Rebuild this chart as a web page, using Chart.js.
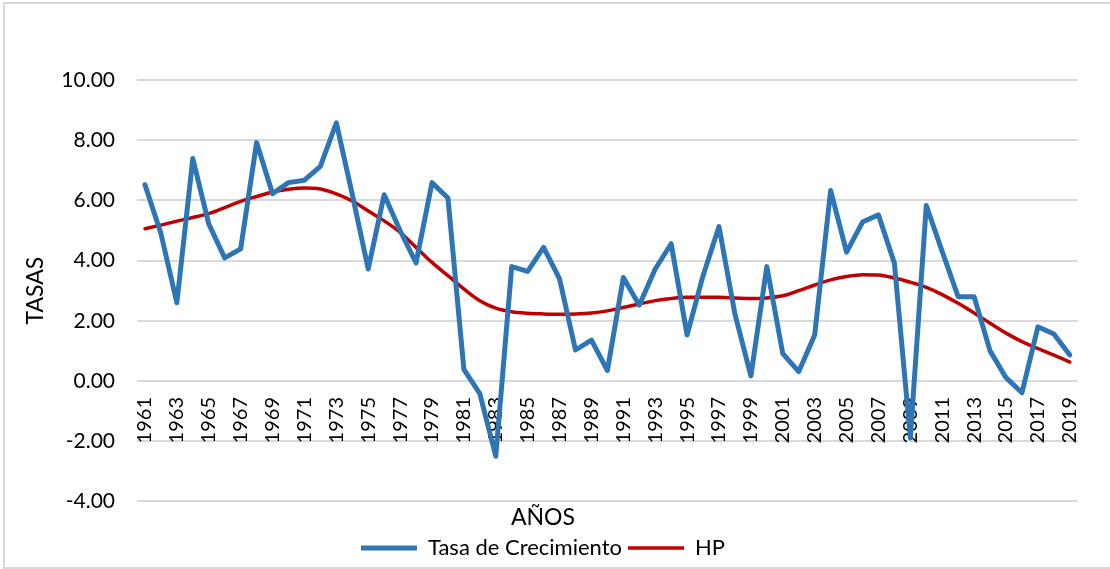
<!DOCTYPE html>
<html lang="es">
<head>
  <meta charset="UTF-8">
  <title>Tasa de Crecimiento y HP</title>
  <script src="https://cdn.jsdelivr.net/npm/chart.js"></script>
  <style>
    body {
      margin: 0;
      background: #fff;
    }

    .wrap {
      position: relative;
      width: 1110px;
      height: 569px;
      overflow: hidden;
    }

    .marco {
      position: absolute;
      left: 3px;
      top: 2px;
      width: 1120px;
      height: 563px;
      border: 2px solid #d9d9d9;
    }

    canvas {
      position: absolute;
      left: 0;
      top: 0;
    }
  </style>
</head>
<body>
  <div class="wrap">
    <div class="marco"></div>
    <canvas id="grafico" width="1110" height="569"></canvas>
  </div>

  <script>
    const anios = [];
    for (let a = 1961; a <= 2019; a++) anios.push(String(a));

    const tasaCrecimiento = [
      6.52, 4.90, 2.60, 7.39, 5.22, 4.09, 4.39, 7.92, 6.22, 6.59,
      6.67, 7.13, 8.58, 6.20, 3.72, 6.19, 5.00, 3.92, 6.59, 6.08,
      0.39, -0.42, -2.50, 3.80, 3.64, 4.44, 3.39, 1.03, 1.36, 0.35,
      3.44, 2.52, 3.72, 4.56, 1.53, 3.50, 5.13, 2.22, 0.17, 3.80,
      0.91, 0.31, 1.53, 6.33, 4.28, 5.28, 5.52, 3.91, -1.89, 5.83,
      4.30, 2.80, 2.80, 1.00, 0.11, -0.39, 1.80, 1.56, 0.86
    ];

    const hp = [
      5.06, 5.18, 5.31, 5.43, 5.56, 5.76, 5.97, 6.13, 6.28, 6.37,
      6.41, 6.38, 6.22, 5.98, 5.65, 5.32, 4.94, 4.44, 3.94, 3.50,
      3.06, 2.67, 2.42, 2.30, 2.25, 2.23, 2.22, 2.23, 2.26, 2.33,
      2.44, 2.56, 2.67, 2.74, 2.78, 2.78, 2.78, 2.76, 2.74, 2.76,
      2.83, 3.00, 3.19, 3.36, 3.47, 3.53, 3.52, 3.42, 3.28, 3.11,
      2.87, 2.58, 2.26, 1.92, 1.59, 1.31, 1.08, 0.86, 0.63
    ];

    const fuente = 'Lato, "Open Sans", sans-serif';
    const gris = '#d9d9d9';

    const ctx = document.getElementById('grafico').getContext('2d');

    new Chart(ctx, {
      type: 'line',
      data: {
        labels: anios,
        datasets: [
          {
            label: 'Tasa de Crecimiento',
            data: tasaCrecimiento,
            borderColor: '#2e75b6',
            backgroundColor: '#2e75b6',
            borderWidth: 5,
            borderCapStyle: 'round',
            borderJoinStyle: 'round',
            pointRadius: 0,
            tension: 0
          },
          {
            label: 'HP',
            data: hp,
            borderColor: '#c00000',
            backgroundColor: '#c00000',
            borderWidth: 3.5,
            borderCapStyle: 'round',
            pointRadius: 0,
            cubicInterpolationMode: 'monotone'
          }
        ]
      },
      options: {
        responsive: false,
        animation: false,
        layout: {
          padding: { top: 80, left: 0, right: 24, bottom: 0 }
        },
        scales: {
          x: {
            position: { y: 0 },
            offset: true,
            grid: { display: false, drawTicks: false },
            border: { display: false },
            ticks: {
              autoSkip: false,
              minRotation: 90,
              maxRotation: 90,
              padding: 16,
              color: '#000',
              font: { family: fuente, size: 20 },
              callback: (v, i) => (i % 2 === 0 ? anios[i] : '')
            },
            afterFit: scale => { scale.height = 0; }
          },
          y: {
            min: -4,
            max: 10,
            grid: { color: gris, lineWidth: 2, drawTicks: false },
            border: { display: false },
            afterFit: scale => { scale.width = 137; },
            ticks: {
              stepSize: 2,
              padding: 22,
              color: '#000',
              font: { family: fuente, size: 21 },
              callback: v => v.toFixed(2)
            },
            title: {
              display: true,
              text: 'TASAS',
              color: '#000',
              padding: { top: 22, bottom: 0 },
              font: { family: fuente, size: 23 }
            }
          }
        },
        plugins: {
          title: {
            display: true,
            position: 'bottom',
            weight: 500,
            text: 'AÑOS',
            color: '#000',
            padding: { top: 2, bottom: 0 },
            font: { family: fuente, size: 23, weight: 'normal' }
          },
          legend: {
            position: 'bottom',
            labels: {
              usePointStyle: true,
              pointStyle: 'line',
              pointStyleWidth: 56,
              color: '#000',
              padding: 6,
              font: { family: fuente, size: 22 }
            }
          },
          tooltip: { enabled: false }
        }
      }
    });
  </script>
</body>
</html>
